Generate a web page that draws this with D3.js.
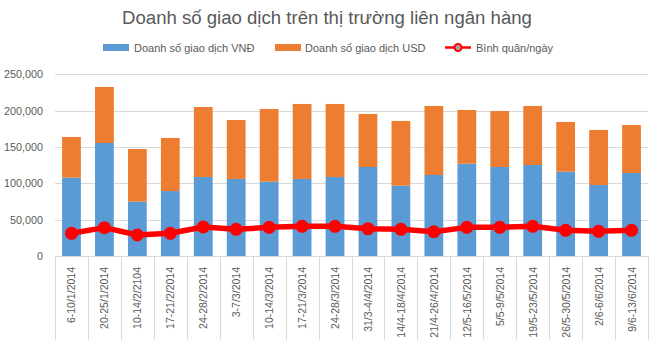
<!DOCTYPE html>
<html><head><meta charset="utf-8">
<script src="https://cdn.jsdelivr.net/npm/d3@7"></script>
<style>body{margin:0;background:#fff}svg{display:block}text{font-family:"Liberation Sans",Arial,sans-serif}</style>
</head><body><svg id="c" width="653" height="340"></svg>
<script>
const categories = ["6-10/1/2014","20-25/1/2014","10-14/2/2104","17-21/2/2014","24-28/2/2014","3-7/3/2014","10-14/3/2014","17-21/3/2014","24-28/3/2014","31/3-4/4/2014","14/4-18/4/2014","21/4-26/4/2014","12/5-16/5/2014","5/5-9/5/2014","19/5-23/5/2014","26/5-30/5/2014","2/6-6/6/2014","9/6-13/6/2014"];
const vnd = [107800,155500,74800,89400,108700,106000,102300,106000,108700,122500,96800,111500,127000,122500,125200,116000,97700,114200];
const usd = [56000,77100,72400,73000,96300,81100,100000,103200,100500,72900,89000,94900,73900,77000,81200,68400,75700,66100];
const avg = [31200,39000,28900,31200,40000,36700,39400,40800,40800,37600,36700,33500,39400,39400,40800,35300,34000,35300];
const yTicks = [0,50000,100000,150000,200000,250000];
const seriesNames = ["Doanh số giao dịch VNĐ","Doanh số giao dịch USD","Bình quân/ngày"];
const colors = ["#5B9BD5","#ED7D31","#FF0000"];

const svg = d3.select("#c");
const L=55,R=648,T=74.3,B=256;
const x = d3.scaleBand().domain(categories).range([L,R]).paddingInner(0.43).paddingOuter(0.215);
const xb = d3.scaleBand().domain(categories).range([L,R]);
const y = d3.scaleLinear().domain([0,250000]).range([B,T]);

// title
const title = svg.append("text").attr("x",327).attr("y",24).attr("text-anchor","middle")
  .attr("font-size",19).attr("fill","#595959").text("Doanh số giao dịch trên thị trường liên ngân hàng");
const tw = title.node().getComputedTextLength();
title.attr("font-size",19*410/tw);

// grid
svg.append("g").selectAll("line").data(yTicks.slice(1)).join("line")
  .attr("x1",L).attr("x2",R).attr("y1",d=>Math.round(y(d))+0.5).attr("y2",d=>Math.round(y(d))+0.5)
  .attr("stroke","#d9d9d9").attr("stroke-width",1);

// y labels
const yAxis = d3.axisLeft(y).tickValues(yTicks).tickFormat(d3.format(",")).tickSize(0).tickPadding(0);
const ga = svg.append("g").attr("transform",`translate(${L-12},0)`).call(yAxis);
ga.select(".domain").remove();
ga.selectAll("text").attr("font-size",10.8).attr("fill","#595959").style("font-family","'Liberation Sans',Arial,sans-serif");

// bars
const stack = d3.stack().keys(["vnd","usd"])(categories.map((c,i)=>({c,vnd:vnd[i],usd:usd[i]})));
svg.append("g").selectAll("g").data(stack).join("g").attr("fill",(d,i)=>colors[i])
  .selectAll("rect").data(d=>d).join("rect")
  .attr("x",d=>x(d.data.c)).attr("width",x.bandwidth())
  .attr("y",d=>y(d[1])).attr("height",d=>y(d[0])-y(d[1]));

// x axis
const edges = categories.map(c=>xb(c)).concat([R]);
svg.append("g").selectAll("line").data(edges).join("line")
  .attr("x1",d=>Math.round(d)+0.5).attr("x2",d=>Math.round(d)+0.5).attr("y1",B).attr("y2",340)
  .attr("stroke","#d9d9d9");
svg.append("line").attr("x1",L).attr("x2",R).attr("y1",B+0.5).attr("y2",B+0.5).attr("stroke","#d9d9d9");
svg.append("g").selectAll("text").data(categories).join("text")
  .attr("transform",d=>`translate(${xb(d)+xb.bandwidth()/2+4},267) rotate(-90)`)
  .attr("text-anchor","end").attr("font-size",10.5).attr("fill","#595959").text(d=>d);

// line
const cx = d=>xb(d)+xb.bandwidth()/2;
svg.append("path").datum(avg).attr("fill","none").attr("stroke",colors[2]).attr("stroke-width",5.5)
  .attr("stroke-linejoin","round")
  .attr("d",d3.line().x((d,i)=>cx(categories[i])).y(d=>y(d)));
svg.append("g").selectAll("circle").data(avg).join("circle")
  .attr("cx",(d,i)=>cx(categories[i])).attr("cy",d=>y(d)).attr("r",6.5).attr("fill",colors[2]);

// legend
const lg = svg.append("g");
lg.append("rect").attr("x",103).attr("y",44).attr("width",26).attr("height",7).attr("fill",colors[0]);
lg.append("text").attr("x",134).attr("y",51.5).attr("font-size",11).attr("fill","#595959").text(seriesNames[0]);
lg.append("rect").attr("x",275).attr("y",44).attr("width",26).attr("height",7).attr("fill",colors[1]);
lg.append("text").attr("x",305).attr("y",51.5).attr("font-size",11).attr("fill","#595959").text(seriesNames[1]);
lg.append("line").attr("x1",445).attr("x2",471).attr("y1",47.5).attr("y2",47.5).attr("stroke",colors[2]).attr("stroke-width",2.5);
lg.append("circle").attr("cx",458).attr("cy",47.5).attr("r",3.5).attr("fill","#a5a5a5").attr("stroke",colors[2]).attr("stroke-width",2);
lg.append("text").attr("x",476).attr("y",51.5).attr("font-size",11).attr("fill","#595959").text(seriesNames[2]);
</script></body></html>
